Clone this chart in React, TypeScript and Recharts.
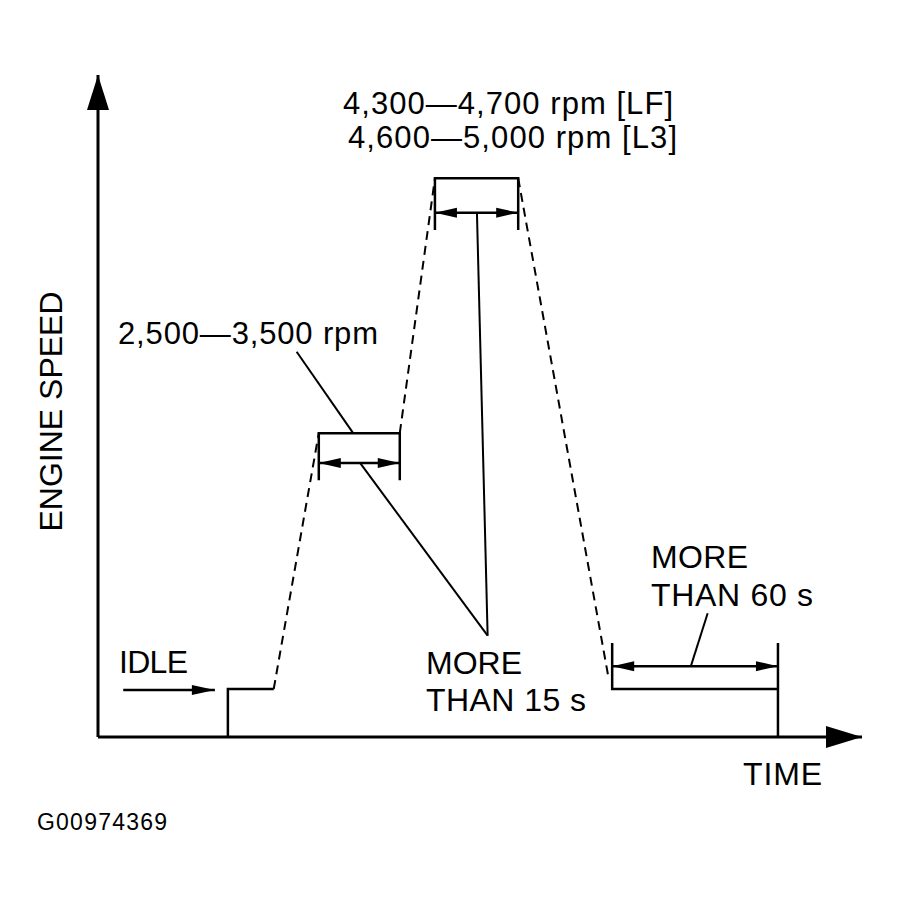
import React from 'react';
import { LineChart, Line, XAxis, YAxis } from 'recharts';

// schematic units: time 0-100 along the axis, engine speed 0-100 up the axis
const xAxisLine = [{ t: 0, v: 0 }, { t: 100, v: 0 }];
const yAxisLine = [{ t: 0, v: 0 }, { t: 0, v: 100 }];

const idleStep = [{ t: 17.0, v: 0 }, { t: 17.0, v: 7.25 }, { t: 23.0, v: 7.25 }];
const rampUp1 = [{ t: 23.0, v: 7.25 }, { t: 28.9, v: 45.9 }];
const midHold = [{ t: 28.9, v: 38.8 }, { t: 28.9, v: 45.9 }, { t: 39.5, v: 45.9 }, { t: 39.5, v: 38.8 }];
const rampUp2 = [{ t: 39.5, v: 45.9 }, { t: 44.1, v: 84.4 }];
const topHold = [{ t: 44.1, v: 76.6 }, { t: 44.1, v: 84.4 }, { t: 55.0, v: 84.4 }, { t: 55.0, v: 76.6 }];
const rampDown = [{ t: 55.0, v: 84.4 }, { t: 66.8, v: 9.1 }];
const lowHold = [{ t: 67.3, v: 14.2 }, { t: 67.3, v: 7.25 }, { t: 89.0, v: 7.25 }];
const lowEnd = [{ t: 89.0, v: 14.2 }, { t: 89.0, v: 0 }];

const midSpan = [{ t: 28.9, v: 41.4 }, { t: 39.5, v: 41.4 }];
const topSpan = [{ t: 44.1, v: 79.2 }, { t: 55.0, v: 79.2 }];
const lowSpan = [{ t: 67.3, v: 10.7 }, { t: 89.0, v: 10.7 }];
const idleArrow = [{ t: 3.3, v: 7.1 }, { t: 15.3, v: 7.1 }];

const leaderMidLabel = [{ t: 26.0, v: 58.2 }, { t: 33.4, v: 45.9 }];
const leaderMid = [{ t: 34.3, v: 41.4 }, { t: 51.0, v: 15.3 }];
const leaderTop = [{ t: 49.6, v: 79.2 }, { t: 51.0, v: 15.3 }];
const leaderLow = [{ t: 77.6, v: 10.7 }, { t: 79.8, v: 18.7 }];

const W = 899;
const H = 905;
const margin = { top: 75, right: 37, bottom: 168, left: 98 };
const KX = (W - margin.left - margin.right) / 100;
const KY = (H - margin.top - margin.bottom) / 100;
const font = '"Liberation Sans", Arial, sans-serif';

type Pt = { t: number; v: number };

function heads(data: Pt[], mode: 'start' | 'end' | 'both', len: number, half: number) {
  return (props: any) => {
    const { cx, cy, index } = props;
    const key = `h-${index}`;
    const last = data.length - 1;
    const atStart = index === 0 && mode !== 'end';
    const atEnd = index === last && mode !== 'start';
    if (!atStart && !atEnd) return <g key={key} />;
    const from = index === 0 ? data[1] : data[last - 1];
    const to = data[index];
    const dx = (to.t - from.t) * KX;
    const dy = -(to.v - from.v) * KY;
    const d = Math.hypot(dx, dy);
    const ux = dx / d;
    const uy = dy / d;
    const bx = cx - ux * len;
    const by = cy - uy * len;
    const pts = `${cx},${cy} ${bx - uy * half},${by + ux * half} ${bx + uy * half},${by - ux * half}`;
    return <polygon key={key} points={pts} fill="#000" stroke="none" />;
  };
}

const solid = (id: string, data: Pt[], width = 2.5, dot: any = false) => (
  <Line
    key={id}
    data={data}
    dataKey="v"
    type="linear"
    stroke="#000"
    strokeWidth={width}
    dot={dot}
    activeDot={false}
    isAnimationActive={false}
  />
);

const dashed = (id: string, data: Pt[]) => (
  <Line
    key={id}
    data={data}
    dataKey="v"
    type="linear"
    stroke="#000"
    strokeWidth={2}
    strokeDasharray="9 6"
    dot={false}
    activeDot={false}
    isAnimationActive={false}
  />
);

export default function App() {
  const txt = { fontFamily: font, fill: '#000' } as const;
  return (
    <div style={{ position: 'absolute', left: 0, top: 0, width: W, height: H, background: '#fff' }}>
      <LineChart width={W} height={H} margin={margin}>
        <XAxis type="number" dataKey="t" domain={[0, 100]} hide />
        <YAxis type="number" dataKey="v" domain={[0, 100]} hide />
        {solid('xaxis', xAxisLine, 3, heads(xAxisLine, 'end', 36, 11))}
        {solid('yaxis', yAxisLine, 3, heads(yAxisLine, 'end', 35, 11))}
        {solid('idle', idleStep)}
        {dashed('up1', rampUp1)}
        {solid('mid', midHold)}
        {dashed('up2', rampUp2)}
        {solid('top', topHold)}
        {dashed('down', rampDown)}
        {solid('low', lowHold)}
        {solid('lowEnd', lowEnd)}
        {solid('midSpan', midSpan, 2.5, heads(midSpan, 'both', 22, 5))}
        {solid('topSpan', topSpan, 2.5, heads(topSpan, 'both', 22, 5))}
        {solid('lowSpan', lowSpan, 2.5, heads(lowSpan, 'both', 22, 5))}
        {solid('idleArrow', idleArrow, 2.5, heads(idleArrow, 'end', 23, 5))}
        {solid('l1', leaderMidLabel, 2)}
        {solid('l2', leaderMid, 2)}
        {solid('l3', leaderTop, 2)}
        {solid('l4', leaderLow, 2)}
      </LineChart>
      <svg width={W} height={H} style={{ position: 'absolute', left: 0, top: 0, pointerEvents: 'none' }}>
        <text {...txt} x={343} y={114} fontSize={31} textLength={330} lengthAdjust="spacing">4,300—4,700 rpm [LF]</text>
        <text {...txt} x={348} y={148} fontSize={31} textLength={329} lengthAdjust="spacing">4,600—5,000 rpm [L3]</text>
        <text {...txt} x={118} y={344} fontSize={31} textLength={260} lengthAdjust="spacing">2,500—3,500 rpm</text>
        <text {...txt} x={119} y={673} fontSize={32} textLength={69} lengthAdjust="spacing">IDLE</text>
        <text {...txt} x={426} y={674} fontSize={32} textLength={96} lengthAdjust="spacing">MORE</text>
        <text {...txt} x={426} y={711} fontSize={32} textLength={160} lengthAdjust="spacing">THAN 15 s</text>
        <text {...txt} x={651} y={568} fontSize={32} textLength={97} lengthAdjust="spacing">MORE</text>
        <text {...txt} x={651} y={606} fontSize={32} textLength={162} lengthAdjust="spacing">THAN 60 s</text>
        <text {...txt} x={743} y={785} fontSize={32} textLength={79} lengthAdjust="spacing">TIME</text>
        <text
          {...txt}
          x={62}
          y={411.5}
          fontSize={32}
          textAnchor="middle"
          transform="rotate(-90, 62, 411.5)"
        >
          ENGINE SPEED
        </text>
        <text {...txt} x={37} y={830} fontSize={23} textLength={130} lengthAdjust="spacing">G00974369</text>
      </svg>
    </div>
  );
}
